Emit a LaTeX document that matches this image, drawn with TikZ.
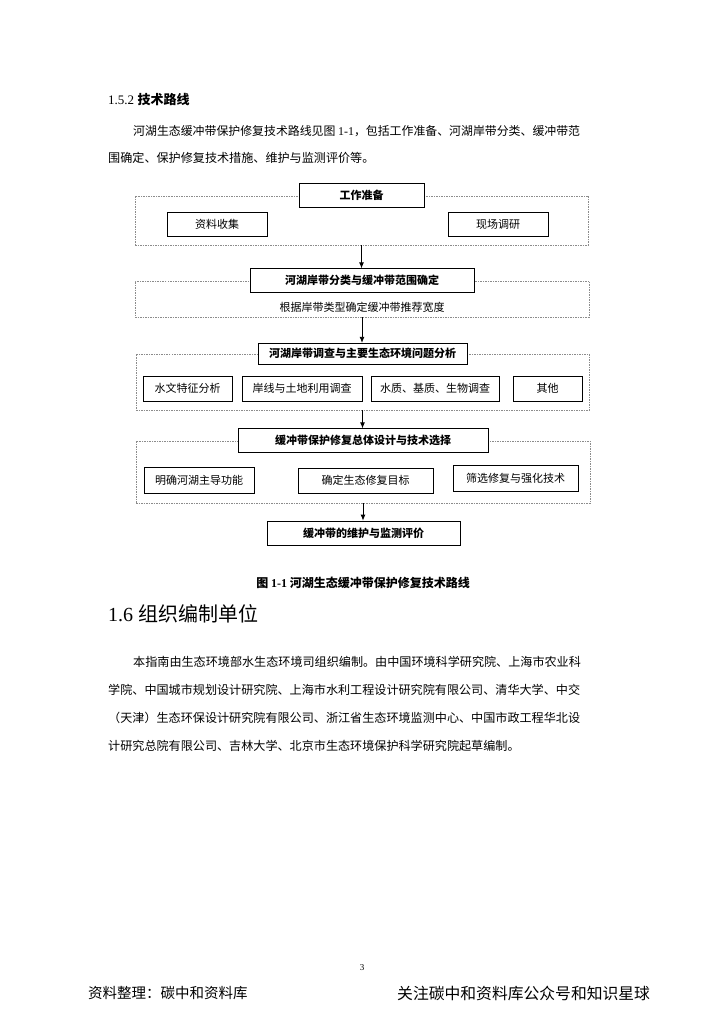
\documentclass[tikz,border=0pt]{standalone}
\usepackage{fontspec}
\setmainfont{Noto Sans CJK SC}
\newfontfamily\tnr{Liberation Serif}
\usetikzlibrary{arrows.meta}
\begin{document}
\begin{tikzpicture}[x=1pt,y=-1pt,>={Latex[length=6pt,width=5pt]},
  grp/.style={draw=black!45,dash pattern=on 1.5pt off 1pt,line width=.5pt,inner sep=0pt},
  headbox/.style={draw,line width=.8pt,fill=white,inner sep=0pt,minimum height=24pt,
    font=\fontsize{11}{13}\selectfont\bfseries},
  itembox/.style={draw,line width=.8pt,fill=white,inner sep=0pt,minimum height=25pt,
    font=\fontsize{11}{13}\selectfont},
  body/.style={anchor=west,inner sep=0pt,font=\fontsize{12.1}{14}\selectfont}]
  \fill[white] (0,0) rectangle (724,1024);
  \useasboundingbox (0,0) rectangle (724,1024);
  % section 1.5.2
  \node[anchor=west,inner sep=0pt] (sec152) at (108,100)
    {{\tnr\fontsize{13}{15}\selectfont 1.5.2}\hspace{3.5pt}{\fontsize{13}{15}\selectfont\bfseries 技术路线}};
  \node[body,font=\fontsize{11.9}{14}\selectfont] (pa1) at (133,131) {河湖生态缓冲带保护修复技术路线见图 {\tnr 1-1}，包括工作准备、河湖岸带分类、缓冲带范};
  \node[body] (pa2) at (108,158) {围确定、保护修复技术措施、维护与监测评价等。};
  % flow chart
  \node[grp,minimum width=453pt,minimum height=49pt] (g1) at (361.5,220.5) {};
  \node[headbox,minimum width=125pt] (h1) at (g1.north) {工作准备};
  \node[itembox,minimum width=100pt,minimum height=24pt] (i11) at (217,224) {资料收集};
  \node[itembox,minimum width=100pt,minimum height=24pt] (i12) at (498,224) {现场调研};
  \node[grp,minimum width=454pt,minimum height=36pt] (g2) at (362,299) {};
  \node[headbox,minimum width=224pt] (h2) at (g2.north) {河湖岸带分类与缓冲带范围确定};
  \node[inner sep=0pt,font=\fontsize{11}{13}\selectfont] (t2) at (362,307) {根据岸带类型确定缓冲带推荐宽度};
  \node[grp,minimum width=453pt,minimum height=56pt] (g3) at (362.5,382) {};
  \node[headbox,minimum width=209pt,minimum height=21pt] (h3) at (g3.north) {河湖岸带调查与主要生态环境问题分析};
  \node[itembox,minimum width=89pt] (i31) at (187.5,388.5) {水文特征分析};
  \node[itembox,minimum width=120pt] (i32) at (302,388.5) {岸线与土地利用调查};
  \node[itembox,minimum width=128pt] (i33) at (435,388.5) {水质、基质、生物调查};
  \node[itembox,minimum width=69pt] (i34) at (547.5,388.5) {其他};
  \node[grp,minimum width=454pt,minimum height=62pt] (g4) at (363,472) {};
  \node[headbox,minimum width=250pt] (h4) at (g4.north) {缓冲带保护修复总体设计与技术选择};
  \node[itembox,minimum width=110pt,minimum height=26pt] (i41) at (199,480) {明确河湖主导功能};
  \node[itembox,minimum width=135pt] (i42) at (365.5,480.5) {确定生态修复目标};
  \node[itembox,minimum width=125pt,minimum height=26pt] (i43) at (515.5,478) {筛选修复与强化技术};
  \node[headbox,minimum width=193pt] (h5) at (363.5,533) {缓冲带的维护与监测评价};
  \draw[->,line width=.8pt] (g1.south) -- (g1.south |- h2.north);
  \draw[->,line width=.8pt] (g2.south) -- (g2.south |- h3.north);
  \draw[->,line width=.8pt] (g3.south) -- (g3.south |- h4.north);
  \draw[->,line width=.8pt] (g4.south) -- (g4.south |- h5.north);
  \node[inner sep=0pt,font=\fontsize{12}{14}\selectfont\bfseries] (cap) at (363,583)
    {图 {\tnr\bfseries 1-1} 河湖生态缓冲带保护修复技术路线};
  % section 1.6
  \node[anchor=west,inner sep=0pt] (sec16) at (108,614)
    {{\tnr\fontsize{20}{22}\selectfont 1.6}\hspace{5pt}{\fontsize{20}{22}\selectfont 组织编制单位}};
  \node[body] (pb1) at (133,662) {本指南由生态环境部水生态环境司组织编制。由中国环境科学研究院、上海市农业科};
  \node[body] (pb2) at (108,690) {学院、中国城市规划设计研究院、上海市水利工程设计研究院有限公司、清华大学、中交};
  \node[body] (pb3) at (108,718) {（天津）生态环保设计研究院有限公司、浙江省生态环境监测中心、中国市政工程华北设};
  \node[body] (pb4) at (108,746) {计研究总院有限公司、吉林大学、北京市生态环境保护科学研究院起草编制。};
  % footer
  \node[inner sep=0pt,font=\tnr\fontsize{9}{11}\selectfont] (pnum) at (362,968) {3};
  \node[anchor=west,inner sep=0pt,font=\fontsize{14.5}{17}\selectfont] (foot1) at (88,993)
    {资料整理：碳中和资料库};
  \node[anchor=west,inner sep=0pt,font=\fontsize{15.8}{17}\selectfont] (foot2) at (397,993)
    {关注碳中和资料库公众号和知识星球};
\end{tikzpicture}
\end{document}
